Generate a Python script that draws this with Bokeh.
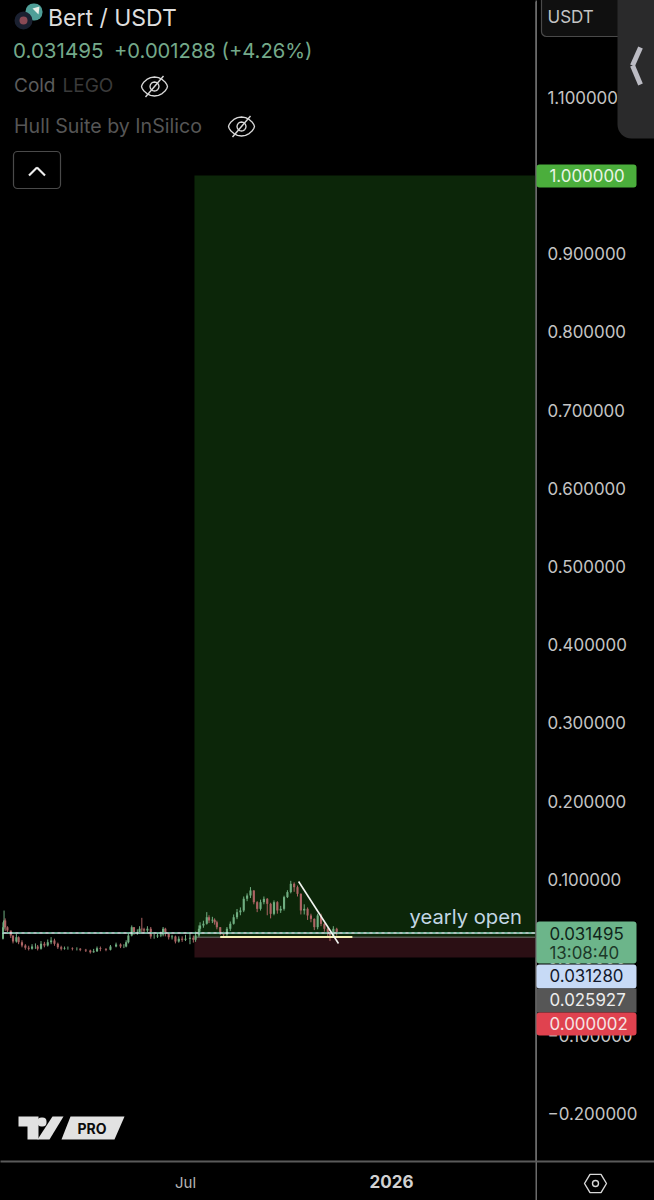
import math
from bokeh.plotting import figure
from bokeh.embed import file_html
from bokeh.resources import INLINE
from bokeh.models import BoxAnnotation, PolyAnnotation, Label, FixedTicker, Range1d

# ---- chart data ----
days = [-165,-163,-162,-161,-159,-156,-154,-151,-149,-146,-143,-140,-137,-134,-132,-129,-126,-123,-120,-117,-114,-111,-108,-105,-101,-97,-94,-89,-85,-82,-79,-76,-71,-67,-62,-58,-55,-53,-51,-48,-46,-43,-41,-39,-37,-34,-31,-28,-25,-22,-20,-18,-15,-12,-9,-6,-3,0,
        4,7,9,12,13,16,19,21,24,26,28,31,34,37,40,43,46,49,52,55,58,61,64,67,70,73,76,79,82,85,88,91,94,97,100,103,106,109,112,115,118,121,124,127,129,132,135]
closes_m = [23.9,38.8,47.3,38.8,34.5,28.1,20.5,26.0,19.6,15.3,12.4,11.1,14.1,14.1,11.1,17.5,15.3,19.6,21.7,17.5,13.2,11.1,11.9,11.9,11.1,11.1,9.8,9.0,6.8,8.1,11.9,10.7,9.8,14.1,16.6,14.1,14.1,19.6,28.1,38.8,32.4,32.4,36.7,36.0,34.5,36.7,26.9,26.9,28.1,29.4,36.7,30.3,26.0,26.9,20.5,23.9,22.6,23.9,
            25.2,22.6,28.1,36.7,40.9,43.0,51.6,47.3,48.2,45.2,38.8,32.4,29.4,36.7,43.0,51.6,58.0,60.1,75.0,79.3,85.6,70.7,62.2,70.7,75.0,68.6,55.8,70.7,60.1,62.2,77.2,83.6,94.2,89.9,81.4,60.1,62.2,53.7,49.4,38.8,53.7,43.0,36.7,30.3,28.1,36.7,31.5]
highs_m = [32,45,60,50,40,34,28,30,27,22,17,15,17,18,16,21,20,23,26,24,19,15,14,14,13,13,12,11,10,11,14,14,12,16,19,18,17,22,31,41,39,36,40,50.7,38,40,39,30,31,33,39,38,31,29,28,27,27,29,
           31,28,33,41,45,47,58,54,52,50,47,39,33,39,46,55,62,64,78,82,90,86,72,74,78,76,70,73,72,66,79,86,98,96,92,82,68,64,56,50,56,56,44,38,32,40,38]
lows_m = [18,23,36,34,30,25,18,19,17,13,10,9,10,11,9,10,13,14,17,15,11,9,10,10,9,9,8,7,5,6,7,8,8,9,13,12,12,13,18,27,29,29,30,32,31,32,24,24,25,26,27,27,23,23,18,19,20,21,
          17,19,20,26,33,38,42,44,44,42,36,29,26,27,34,42,49,54,58,72,76,68,58,60,68,54,50,54,56,57,60,76,82,84,78,55,55,48,45,35,36,40,33,26,21,25,28]
assert len(days) == len(closes_m) == len(highs_m) == len(lows_m), (len(days), len(closes_m), len(highs_m), len(lows_m))

y_ticks = [1.1, 1.0, 0.9, 0.8, 0.7, 0.6, 0.5, 0.4, 0.3, 0.2, 0.1, 0.0, -0.1, -0.2]
last_price = 0.031495
yearly_open = 0.03128
entry_price = 0.025927
stop_price = 0.000002
target_price = 1.0
position_start_day = 8
position_end_day = 312.5
support_days = [31, 149]
support_price = 0.0262
trend_days = [101, 136.6]
trend_prices = [0.0972, 0.0179]

# ---- figure ----
p = figure(width=654, height=1200, output_backend="svg", toolbar_location=None,
           x_range=Range1d(-165.18, 312.5), y_range=Range1d(-0.2609, 1.2238),
           y_axis_location="right", min_border_left=0, min_border_top=0,
           min_border_right=119, min_border_bottom=39,
           background_fill_color="#000000", border_fill_color="#000000",
           outline_line_color=None, outline_line_alpha=0,
           styles={"position": "absolute", "left": "0px", "top": "0px"})
p.grid.visible = False

ax = p.yaxis[0]
ax.ticker = FixedTicker(ticks=y_ticks)
ax.major_label_overrides = {t: (f"{t:.6f}".replace("-", "\u2212")) for t in y_ticks}
ax.major_tick_line_color = None
ax.major_tick_out = 0
ax.major_tick_in = 0
ax.minor_tick_line_color = None
ax.minor_tick_out = 0
ax.axis_line_color = None
ax.major_label_standoff = 12
ax.major_label_text_color = "#c4c4c4"
ax.major_label_text_font = "Inter"
ax.major_label_text_font_size = "16.9px"

bx = p.xaxis[0]
bx.ticker = FixedTicker(ticks=[0])
bx.major_label_overrides = {0: "Jul"}
bx.major_tick_line_color = None
bx.major_tick_out = 0
bx.major_tick_in = 0
bx.minor_tick_line_color = None
bx.minor_tick_out = 0
bx.axis_line_color = None
bx.major_label_standoff = 11
bx.major_label_text_color = "#b4b4b4"
bx.major_label_text_font = "Inter"
bx.major_label_text_font_size = "15px"

closes = [c / 1000 for c in closes_m]
highs = [c / 1000 for c in highs_m]
lows = [c / 1000 for c in lows_m]
opens = [0.020] + closes[:-1]
GREEN, RED = "#6fae80", "#ad6464"
colors = [GREEN if c >= o else RED for o, c in zip(opens, closes)]

p.quad(left=position_start_day, right=position_end_day, bottom=entry_price, top=target_price,
       fill_color="#0c2609", line_color=None)
p.quad(left=position_start_day, right=position_end_day, bottom=stop_price, top=entry_price,
       fill_color="#2b0f14", line_color=None)
p.segment(x0=position_start_day, x1=position_end_day, y0=entry_price, y1=entry_price,
          line_color="#565650", line_width=1.5)

p.segment(x0=days, x1=days, y0=lows, y1=highs, line_color=colors, line_width=1)
p.vbar(x=days, width=1.9, bottom=[min(o, c) for o, c in zip(opens, closes)],
       top=[max(o, c) for o, c in zip(opens, closes)], fill_color=colors, line_color=None)

p.line(x=[-165.18, 312.5], y=[yearly_open, yearly_open], line_color="#e6f2f8", line_width=1.6)
p.line(x=[-165.18, 312.5], y=[last_price, last_price], line_color="#4fae86", line_width=1.4, line_dash="3 3")
p.line(x=support_days, y=[support_price, support_price], line_color="#f6f2b8", line_width=1.8)
p.line(x=trend_days, y=trend_prices, line_color="#f2f4f0", line_width=1.6)

# transparent overlay whose frame fills the window, for the app's interface elements;
# it starts 2px outside the window so its own clip edge stays out of sight
D = 2
q = figure(width=654 + D, height=1200 + D, output_backend="svg", toolbar_location=None,
           x_range=Range1d(0, 654), y_range=Range1d(1200, 0), x_axis_location=None, y_axis_location=None,
           min_border=0, background_fill_alpha=0, border_fill_alpha=0,
           outline_line_color=None, outline_line_alpha=0,
           styles={"position": "absolute", "left": f"{-D}px", "top": f"{-D}px"})
q.grid.visible = False


# ---- page furniture in window pixels ----
def box(l, t, r, b, fill, line=None, radius=0, lw=1):
    q.add_layout(BoxAnnotation(left=l + D, right=r + D, top=t + D, bottom=b + D,
                               left_units="canvas", right_units="canvas",
                               top_units="canvas", bottom_units="canvas",
                               fill_color=fill, fill_alpha=1 if fill else 0,
                               line_color=line, line_alpha=1 if line else 0, line_width=lw,
                               border_radius=int(radius)))


def poly(pts, fill=None, line=None, lw=1.5):
    q.add_layout(PolyAnnotation(xs=[a + D for a, _ in pts], ys=[b + D for _, b in pts],
                                xs_units="canvas", ys_units="canvas",
                                fill_color=fill, fill_alpha=1 if fill else 0,
                                line_color=line, line_alpha=1 if line else 0, line_width=lw))


def stroke(a, b, w, color):
    dx, dy = b[0] - a[0], b[1] - a[1]
    n = math.hypot(dx, dy)
    ox, oy = -dy / n * w / 2, dx / n * w / 2
    poly([(a[0] + ox, a[1] + oy), (b[0] + ox, b[1] + oy), (b[0] - ox, b[1] - oy), (a[0] - ox, a[1] - oy)], fill=color)


def txt(x, y, s, size, color, font="Inter", style="normal", align="left"):
    q.add_layout(Label(x=x + D, y=y + D, x_units="canvas", y_units="canvas", text=s,
                       text_font=font, text_font_size=f"{size}px", text_color=color,
                       text_font_style=style, text_align=align, text_baseline="middle"))


def eye(cx, cy):
    top = [(cx + 13 * math.cos(t / 10 * math.pi), cy - 9.5 * math.sin(t / 10 * math.pi) ** 1.4) for t in range(0, 11)]
    bot = [(cx - 13 * math.cos(t / 10 * math.pi), cy + 9.5 * math.sin(t / 10 * math.pi) ** 1.4) for t in range(0, 11)]
    poly(top + bot, line="#d8d8d8", lw=1.3)
    poly([(cx + 4.5 * math.cos(t / 8 * math.pi), cy + 4.5 * math.sin(t / 8 * math.pi)) for t in range(16)], line="#d8d8d8", lw=1.3)
    stroke((cx - 9, cy + 10.5), (cx + 9, cy - 10.5), 1.4, "#d8d8d8")


# strips that hide the hairline the SVG backend leaves along the chart's clip edges
box(-2, -2, 1.5, 1202, "#000000")
box(-2, -2, 656, 1.5, "#000000")

# separators
box(535, 0, 536.5, 1200, "#6a6a6a")
box(0, 1160, 654, 1162, "#5a5a5a")

# header
box(25, 3, 42, 20, "#4f9f98", radius=8)
poly([(32, 8), (39, 6), (38, 14)], fill="#e8efe8")
box(14, 11, 32, 29, "#1a2030", radius=9)
box(19, 16, 27, 24, "#8a4a55", radius=4)
txt(47.5, 17, "Bert / USDT", 23, "#dedede")
txt(12.5, 50, "0.031495", 20.6, "#74a98a")
txt(113.5, 50, "+0.001288 (+4.26%)", 20.2, "#74a98a")
txt(13.5, 85, "Cold", 19, "#5c5c5c")
txt(62, 85, "LEGO", 19, "#3a3a3a")
txt(13.5, 125, "Hull Suite by InSilico", 19.6, "#565656")
eye(154, 86)
eye(241, 126)
box(13, 151, 60, 188, "#000000", line="#4a4a4a", radius=4, lw=1.2)
stroke((28.5, 175), (36.5, 167), 2.2, "#eeeeee")
stroke((36.5, 167), (44.5, 175), 2.2, "#eeeeee")

# currency button and side panel
box(541, -6, 640, 36, "#101010", line="#4a4a4a", radius=5, lw=1.2)
txt(547, 16, "USDT", 17, "#c4c4c4")
box(617, -14, 670, 138, "#2a2a2b", radius=14)
stroke((640, 47), (632, 65), 5, "#bcbcc4")
stroke((632, 65), (640, 84), 5, "#bcbcc4")

# price tags
box(536, 164, 636, 187, "#4bae3c", radius=3)
txt(549, 175, "1.000000", 16.9, "#eaf5e6")
box(536, 921, 636, 963, "#6cb58a", radius=3)
txt(549, 933, "0.031495", 16.9, "#10251a")
txt(549, 952, "13:08:40", 16.9, "#1d3a29")
box(536, 964, 636, 988, "#c7daf6", radius=3)
txt(549, 975, "0.031280", 16.9, "#12182a")
box(536, 988, 636, 1012, "#565656")
txt(549, 999, "0.025927", 16.9, "#ededed")
box(536, 1012, 636, 1035, "#e0424f", radius=3)
txt(549, 1023, "0.000002", 16.9, "#f5e4e4")

txt(409, 916, "yearly open", 20.2, "#c3d6e4")

# logo
LOGO = "#e2e2e2"
poly([(18, 1116), (38, 1116), (38, 1139), (27, 1139), (27, 1126), (18, 1126)], fill=LOGO)
box(37, 1117, 46, 1126, LOGO, radius=4)
poly([(52, 1116), (63, 1116), (49, 1139), (37, 1139)], fill=LOGO)
poly([(70, 1116), (124, 1116), (114, 1139), (61, 1139)], fill=LOGO)
txt(77, 1128, "PRO", 14, "#0c0c0c", style="bold")

# bottom bar
txt(391, 1181, "2026", 17, "#d2d2d2", style="bold", align="center")
hex_pts = [(595 + 11 * math.cos(k * math.pi / 3), 1183 + 10.5 * math.sin(k * math.pi / 3)) for k in range(6)]
poly(hex_pts, line="#d8d8d8", lw=1.4)
box(592, 1180, 598, 1186, None, line="#d8d8d8", radius=3, lw=1.4)

open("out.html", "w").write(file_html([p, q], INLINE))
